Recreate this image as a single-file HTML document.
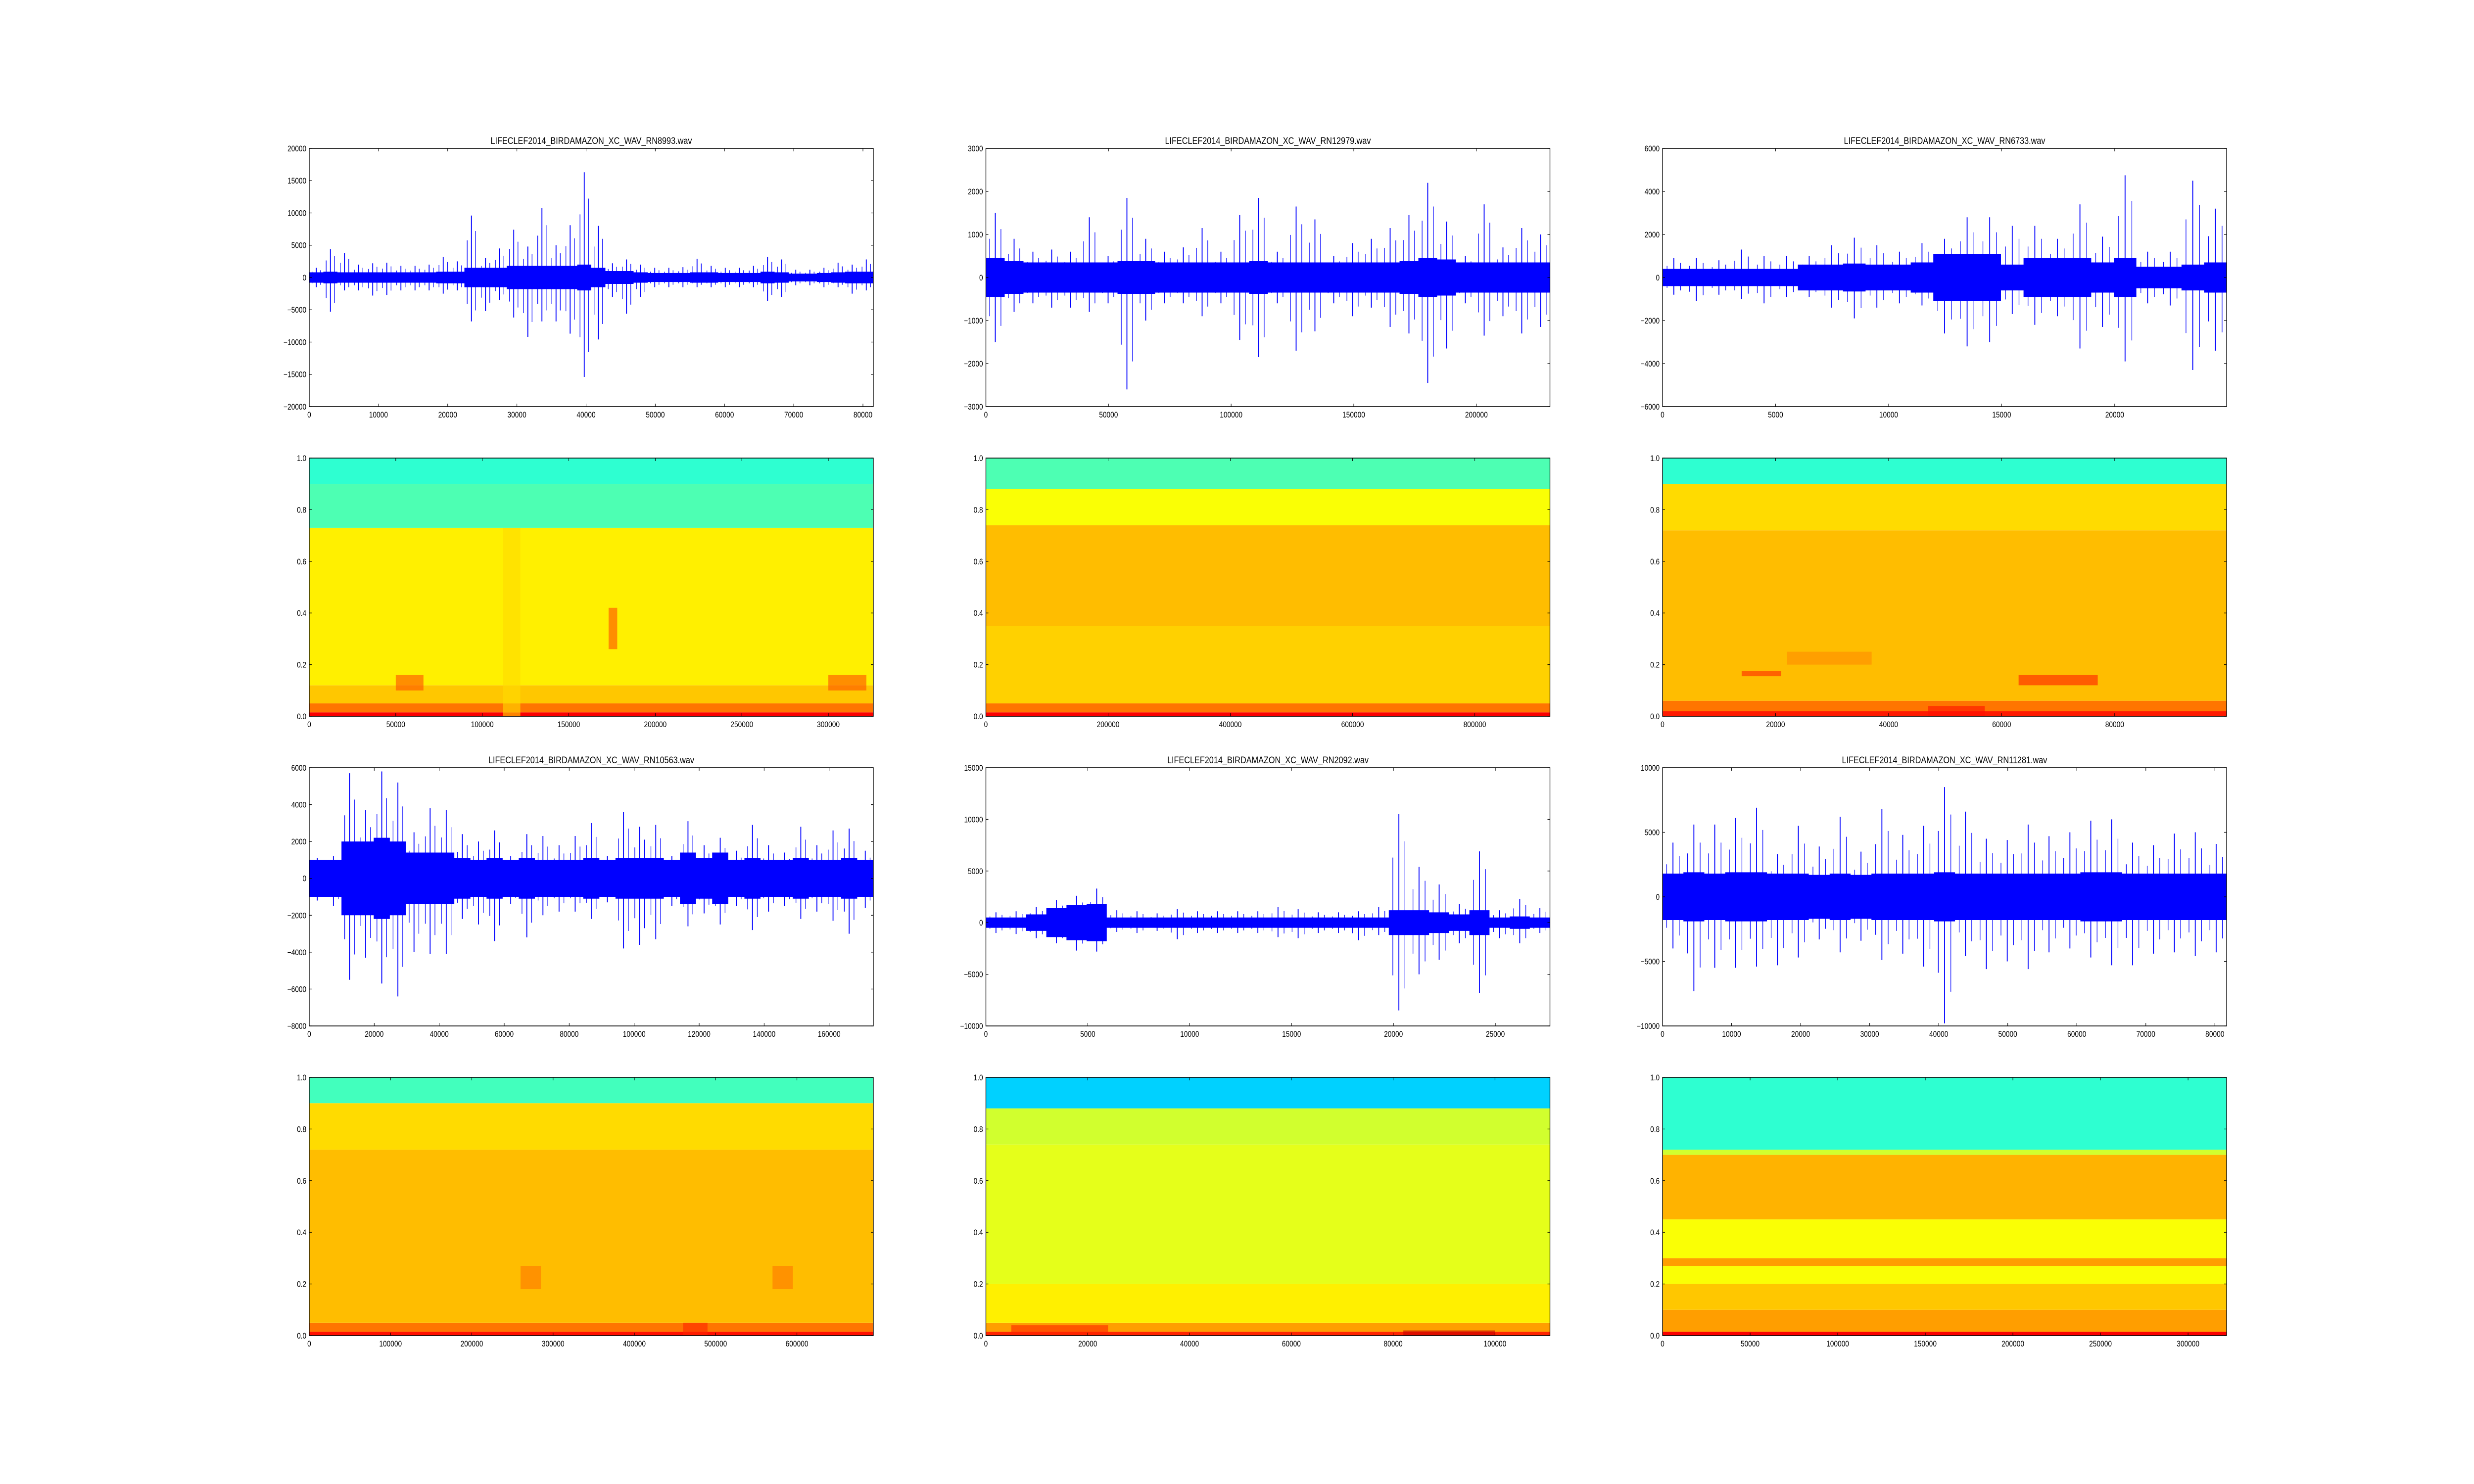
<!DOCTYPE html>
<html><head><meta charset="utf-8">
<style>
html,body{margin:0;padding:0;background:#fff;width:100%;height:100%;overflow:hidden;}
svg{display:block;position:absolute;left:0;top:0;width:100vw;height:100vh;}
text{font-family:"Liberation Sans",sans-serif;fill:#000;}
</style></head>
<body>
<svg id="fig" xmlns="http://www.w3.org/2000/svg" viewBox="0 0 6000 3000" preserveAspectRatio="none">
<rect width="6000" height="3000" fill="#fff"/>
</svg>
<script>
// ---------- data ----------
const titles = ["LIFECLEF2014_BIRDAMAZON_XC_WAV_RN8993.wav","LIFECLEF2014_BIRDAMAZON_XC_WAV_RN12979.wav","LIFECLEF2014_BIRDAMAZON_XC_WAV_RN6733.wav","LIFECLEF2014_BIRDAMAZON_XC_WAV_RN10563.wav","LIFECLEF2014_BIRDAMAZON_XC_WAV_RN2092.wav","LIFECLEF2014_BIRDAMAZON_XC_WAV_RN11281.wav"];
const waveXMax = [81500,230000,24950,173600,27680,81700];
const waveXStep = [10000,50000,5000,20000,5000,10000];
const waveYMin = [-20000,-3000,-6000,-8000,-10000,-10000];
const waveYMax = [20000,3000,6000,6000,15000,10000];
const waveYStep = [5000,1000,2000,2000,5000,5000];
const specXMax = [326000,923000,99800,694000,110800,322000];
const specXStep = [50000,200000,20000,100000,20000,50000];

const w1Hi = [1500,4400,3800,2000,2200,2300,1800,1800,2000,3200,2500,9600,3000,4500,7400,4800,10800,5000,8100,16300,8000,2200,2800,2000,1500,1500,1600,2900,1800,1500,1500,1800,3200,2800,1200,1200,1500,2300,2000,2800];
const w1Lo = [-1500,-5300,-2000,-2000,-2800,-2700,-2000,-2000,-2000,-2500,-2000,-6800,-5200,-3500,-6200,-9200,-6800,-6800,-8700,-15400,-9600,-3000,-5600,-3000,-1500,-1500,-1500,-1500,-1500,-1500,-1500,-1500,-3600,-3000,-1200,-1200,-1500,-1500,-2500,-2000];
const w1Core = [800,900,800,800,800,800,800,800,800,900,900,1500,1500,1500,1800,1800,1800,1800,1800,2000,1500,1000,1000,800,700,700,700,800,800,700,700,700,900,800,600,600,700,800,900,900];

const w2Hi = [1500,900,600,650,600,1400,500,1850,900,600,700,1150,600,1450,1850,600,1650,1350,500,800,900,1150,1450,2200,1300,500,1700,700,1150,1000];
const w2Lo = [-1500,-800,-600,-700,-700,-800,-600,-2600,-1000,-600,-600,-900,-600,-1450,-1850,-600,-1700,-1250,-600,-900,-700,-1150,-1300,-2450,-1650,-600,-1350,-900,-1300,-1150];
const w2Core = [450,380,350,350,350,350,350,380,380,350,350,350,350,350,380,350,350,350,350,350,350,350,380,450,420,350,350,350,350,350];

const w3Hi = [900,900,800,1300,1000,1000,1000,1500,1850,1500,1200,1600,1800,2800,2800,2400,2400,1800,3400,1900,4750,1200,1200,4500,3200];
const w3Lo = [-800,-1100,-800,-1000,-1200,-900,-900,-1400,-1900,-1400,-1200,-1300,-2600,-3200,-3000,-1700,-2200,-1800,-3300,-2300,-3900,-1200,-1300,-4300,-3400];
const w3Core = [400,400,400,400,400,400,600,600,650,600,600,700,1100,1100,1100,600,900,900,900,700,900,500,500,600,700];

const w4Hi = [1100,1200,5700,3700,5800,5200,2500,3800,3700,2400,2000,2600,1200,2400,2300,1800,2300,3000,1200,3600,2800,2900,1200,3100,1800,2200,1500,2900,1800,1400,2800,1800,2600,2700,1500];
const w4Lo = [-1200,-1500,-5500,-4300,-5700,-6400,-4000,-4100,-4100,-2200,-2500,-3400,-1400,-3200,-2000,-1800,-1800,-2200,-1300,-3800,-3600,-3300,-1500,-2600,-1900,-2500,-1500,-2800,-1800,-1500,-2200,-1800,-2300,-3000,-1600];
const w4Core = [1000,1000,2000,2000,2200,2000,1400,1400,1400,1100,1000,1100,1000,1100,1000,1000,1000,1100,1000,1100,1100,1100,1000,1400,1100,1400,1000,1100,1000,1000,1100,1000,1000,1100,1000];

const w5Hi = [1000,1100,1500,2200,2600,3300,1200,1100,900,1300,1100,1100,1100,1100,1500,1300,1000,1000,1100,1500,10500,5400,3700,1800,6900,1200,2300,1400];
const w5Lo = [-1000,-1100,-1500,-2000,-2700,-2800,-900,-1000,-800,-1600,-1000,-1000,-1000,-1000,-1400,-1500,-1000,-1000,-1700,-1200,-8500,-5000,-3600,-2000,-6800,-1500,-2000,-1000];
const w5Core = [500,500,800,1400,1700,1800,500,500,500,500,500,500,500,500,500,500,500,500,500,500,1200,1200,1000,800,1200,500,600,500];

const w6Hi = [4200,5600,5600,6100,6900,3300,5500,3900,6200,3500,6800,4800,5500,8500,6600,4500,4400,5600,4700,5000,5900,6000,4200,4000,4900,5000,4100];
const w6Lo = [-4000,-7300,-5500,-5500,-5400,-5300,-4700,-3300,-4300,-3400,-4900,-4400,-5400,-9800,-4600,-5600,-5000,-5600,-4300,-4000,-4700,-5300,-5300,-4400,-4300,-4600,-4300];
const w6Core = [1800,1900,1800,1900,1900,1800,1800,1700,1800,1700,1800,1800,1800,1900,1800,1800,1800,1800,1800,1800,1900,1900,1800,1800,1800,1800,1800];

// spectrogram bands: frequency start, end, colormap level
const s1From = [0,0.015,0.05,0.12,0.73,0.9];
const s1To   = [0.015,0.05,0.12,0.73,0.9,1];
const s1Lvl  = [0.88,0.76,0.68,0.64,0.45,0.42];
const s2From = [0,0.015,0.05,0.35,0.74,0.88];
const s2To   = [0.015,0.05,0.35,0.74,0.88,1];
const s2Lvl  = [0.88,0.76,0.67,0.69,0.62,0.45];
const s3From = [0,0.02,0.06,0.72,0.9];
const s3To   = [0.02,0.06,0.72,0.9,1];
const s3Lvl  = [0.85,0.76,0.69,0.66,0.42];
const s4From = [0,0.015,0.05,0.72,0.9];
const s4To   = [0.015,0.05,0.72,0.9,1];
const s4Lvl  = [0.86,0.76,0.69,0.66,0.44];
const s5From = [0,0.015,0.05,0.2,0.74,0.88];
const s5To   = [0.015,0.05,0.2,0.74,0.88,1];
const s5Lvl  = [0.84,0.72,0.64,0.6,0.58,0.33];
const s6From = [0,0.015,0.1,0.2,0.27,0.3,0.45,0.7,0.72];
const s6To   = [0.015,0.1,0.2,0.27,0.3,0.45,0.7,0.72,1];
const s6Lvl  = [0.88,0.72,0.68,0.62,0.72,0.62,0.7,0.58,0.42];

// spectrogram events: time start, time end, freq start, freq end, level (per panel)
const e1 = [[50000,66000,0.1,0.16,0.8],[300000,322000,0.1,0.16,0.8],[173000,178000,0.26,0.42,0.8],[112000,122000,0.0,0.73,0.66]];
const e2 = [];
const e3 = [[14000,21000,0.155,0.175,0.84],[22000,37000,0.2,0.25,0.74],[63000,77000,0.12,0.16,0.85],[47000,57000,0.0,0.04,0.86]];
const e4 = [[260000,285000,0.18,0.27,0.76],[570000,595000,0.18,0.27,0.76],[460000,490000,0.0,0.05,0.84]];
const e5 = [[5000,24000,0.0,0.04,0.84],[82000,100000,0.0,0.02,0.93]];
const e6 = [];

const waves = [[w1Hi,w1Lo,w1Core],[w2Hi,w2Lo,w2Core],[w3Hi,w3Lo,w3Core],[w4Hi,w4Lo,w4Core],[w5Hi,w5Lo,w5Core],[w6Hi,w6Lo,w6Core]];
const specs = [[s1From,s1To,s1Lvl,e1],[s2From,s2To,s2Lvl,e2],[s3From,s3To,s3Lvl,e3],[s4From,s4To,s4Lvl,e4],[s5From,s5To,s5Lvl,e5],[s6From,s6To,s6Lvl,e6]];

// ---------- drawing ----------
const NS = "http://www.w3.org/2000/svg";
const fig = document.getElementById('fig');
function mk(tag, attrs, parent){ const e=document.createElementNS(NS,tag); for(const k in attrs) e.setAttribute(k,attrs[k]); (parent||fig).appendChild(e); return e; }
function jet(v){
  const c = x=>Math.max(0,Math.min(1,x));
  const r=c(1.5-Math.abs(4*v-3)), g=c(1.5-Math.abs(4*v-2)), b=c(1.5-Math.abs(4*v-1));
  return `rgb(${Math.round(r*255)},${Math.round(g*255)},${Math.round(b*255)})`;
}
function fmt(v){ if(Math.abs(v)<1e-9) return "0"; return v<0 ? "\u2212"+String(Math.abs(v)) : String(v); }
const colL=[750,2391,4032], W=1368, H=522;
const rowT=[300,926,1552,2178];

function axes(g, L, T, xmax, xstep, ymin, ymax, ystep, isSpec){
  const xs = v=>L + v/xmax*W;
  const ys = v=>T + H - (v-ymin)/(ymax-ymin)*H;
  mk('rect',{x:L,y:T,width:W,height:H,fill:'none',stroke:'#000','stroke-width':1.6},g);
  for(let v=0; v<=xmax+1e-6; v+=xstep){
    const x=xs(v);
    mk('line',{x1:x,y1:T+H,x2:x,y2:T+H-6,stroke:'#000','stroke-width':1.2},g);
    mk('line',{x1:x,y1:T,x2:x,y2:T+6,stroke:'#000','stroke-width':1.2},g);
    const t=mk('text',{x:x,y:T+H+22,'font-size':16.5,'text-anchor':'middle'},g); t.textContent=fmt(v);
  }
  const n=Math.round((ymax-ymin)/ystep);
  for(let i=0;i<=n;i++){
    const v=ymin+i*ystep, y=ys(v);
    mk('line',{x1:L,y1:y,x2:L+6,y2:y,stroke:'#000','stroke-width':1.2},g);
    mk('line',{x1:L+W,y1:y,x2:L+W-6,y2:y,stroke:'#000','stroke-width':1.2},g);
    const t=mk('text',{x:L-7,y:y+6,'font-size':16.5,'text-anchor':'end'},g);
    t.textContent = isSpec ? v.toFixed(1) : fmt(v);
  }
  return [xs,ys];
}

for(let i=0;i<6;i++){
  const col=i%3, band=Math.floor(i/3);
  const L=colL[col], Tw=rowT[band*2], Ts=rowT[band*2+1];
  // waveform
  const gw=mk('g',{});
  
  
  const [hi,lo,core]=waves[i];
  const xmax=waveXMax[i], ymin=waveYMin[i], ymax=waveYMax[i];
  const xs=v=>L+v/xmax*W, ys=v=>Tw+H-(v-ymin)/(ymax-ymin)*H;
  const nb=hi.length, bw=xmax/nb;
  const clipId='cw'+i;
  const cp=mk('clipPath',{id:clipId},gw); mk('rect',{x:L,y:Tw,width:W,height:H},cp);
  const gs=mk('g',{'clip-path':`url(#${clipId})`},gw);
  // core envelope polygon
  let top=[],bot=[];
  for(let b=0;b<nb;b++){
    top.push(`${xs(b*bw)},${ys(core[b])}`, `${xs((b+1)*bw)},${ys(core[b])}`);
    bot.push(`${xs(b*bw)},${ys(-core[b])}`, `${xs((b+1)*bw)},${ys(-core[b])}`);
  }
  bot.reverse();
  const poly=mk('polygon',{points:top.concat(bot).join(' '),fill:'#0000ff'},gs);
  
  
  // spikes per bin
  for(let b=0;b<nb;b++){
    const x0=xs((b+0.5)*bw);
    const sp=mk('line',{x1:x0,y1:ys(hi[b]),x2:x0,y2:ys(lo[b]),stroke:'#0000ff','stroke-width':2.2},gs);
    
    
    const x1=xs((b+0.2)*bw), x2=xs((b+0.8)*bw);
    const s2=mk('line',{x1:x1,y1:ys(hi[b]*0.6),x2:x1,y2:ys(lo[b]*0.6),stroke:'#0000ff','stroke-width':1.5},gs);
    
    
    const s3=mk('line',{x1:x2,y1:ys(hi[b]*0.75),x2:x2,y2:ys(lo[b]*0.75),stroke:'#0000ff','stroke-width':1.5},gs);
    
    
  }
  axes(gw,L,Tw,xmax,waveXStep[i],ymin,ymax,waveYStep[i],false);
  const tt=mk('text',{x:L+W/2,y:Tw-9,'font-size':19.5,'text-anchor':'middle'},gw);
  tt.textContent=titles[i];
  
  

  // spectrogram
  const gsp=mk('g',{});
  
  
  const [fFrom,fTo,lvl,ev]=specs[i];
  const sxmax=specXMax[i];
  const sx=v=>L+v/sxmax*W, sy=v=>Ts+H-v*H;
  for(let k=0;k<fFrom.length;k++){
    const r=mk('rect',{x:L,y:sy(fTo[k]),width:W,height:sy(fFrom[k])-sy(fTo[k]),fill:jet(lvl[k])},gsp);
    
    
  }
  for(const e of ev){
    const r=mk('rect',{x:sx(e[0]),y:sy(e[3]),width:sx(e[1])-sx(e[0]),height:sy(e[2])-sy(e[3]),fill:jet(e[4]),opacity:0.6},gsp);
    
    
  }
  axes(gsp,L,Ts,sxmax,specXStep[i],0,1,0.2,true);
}
</script>
</body></html>
